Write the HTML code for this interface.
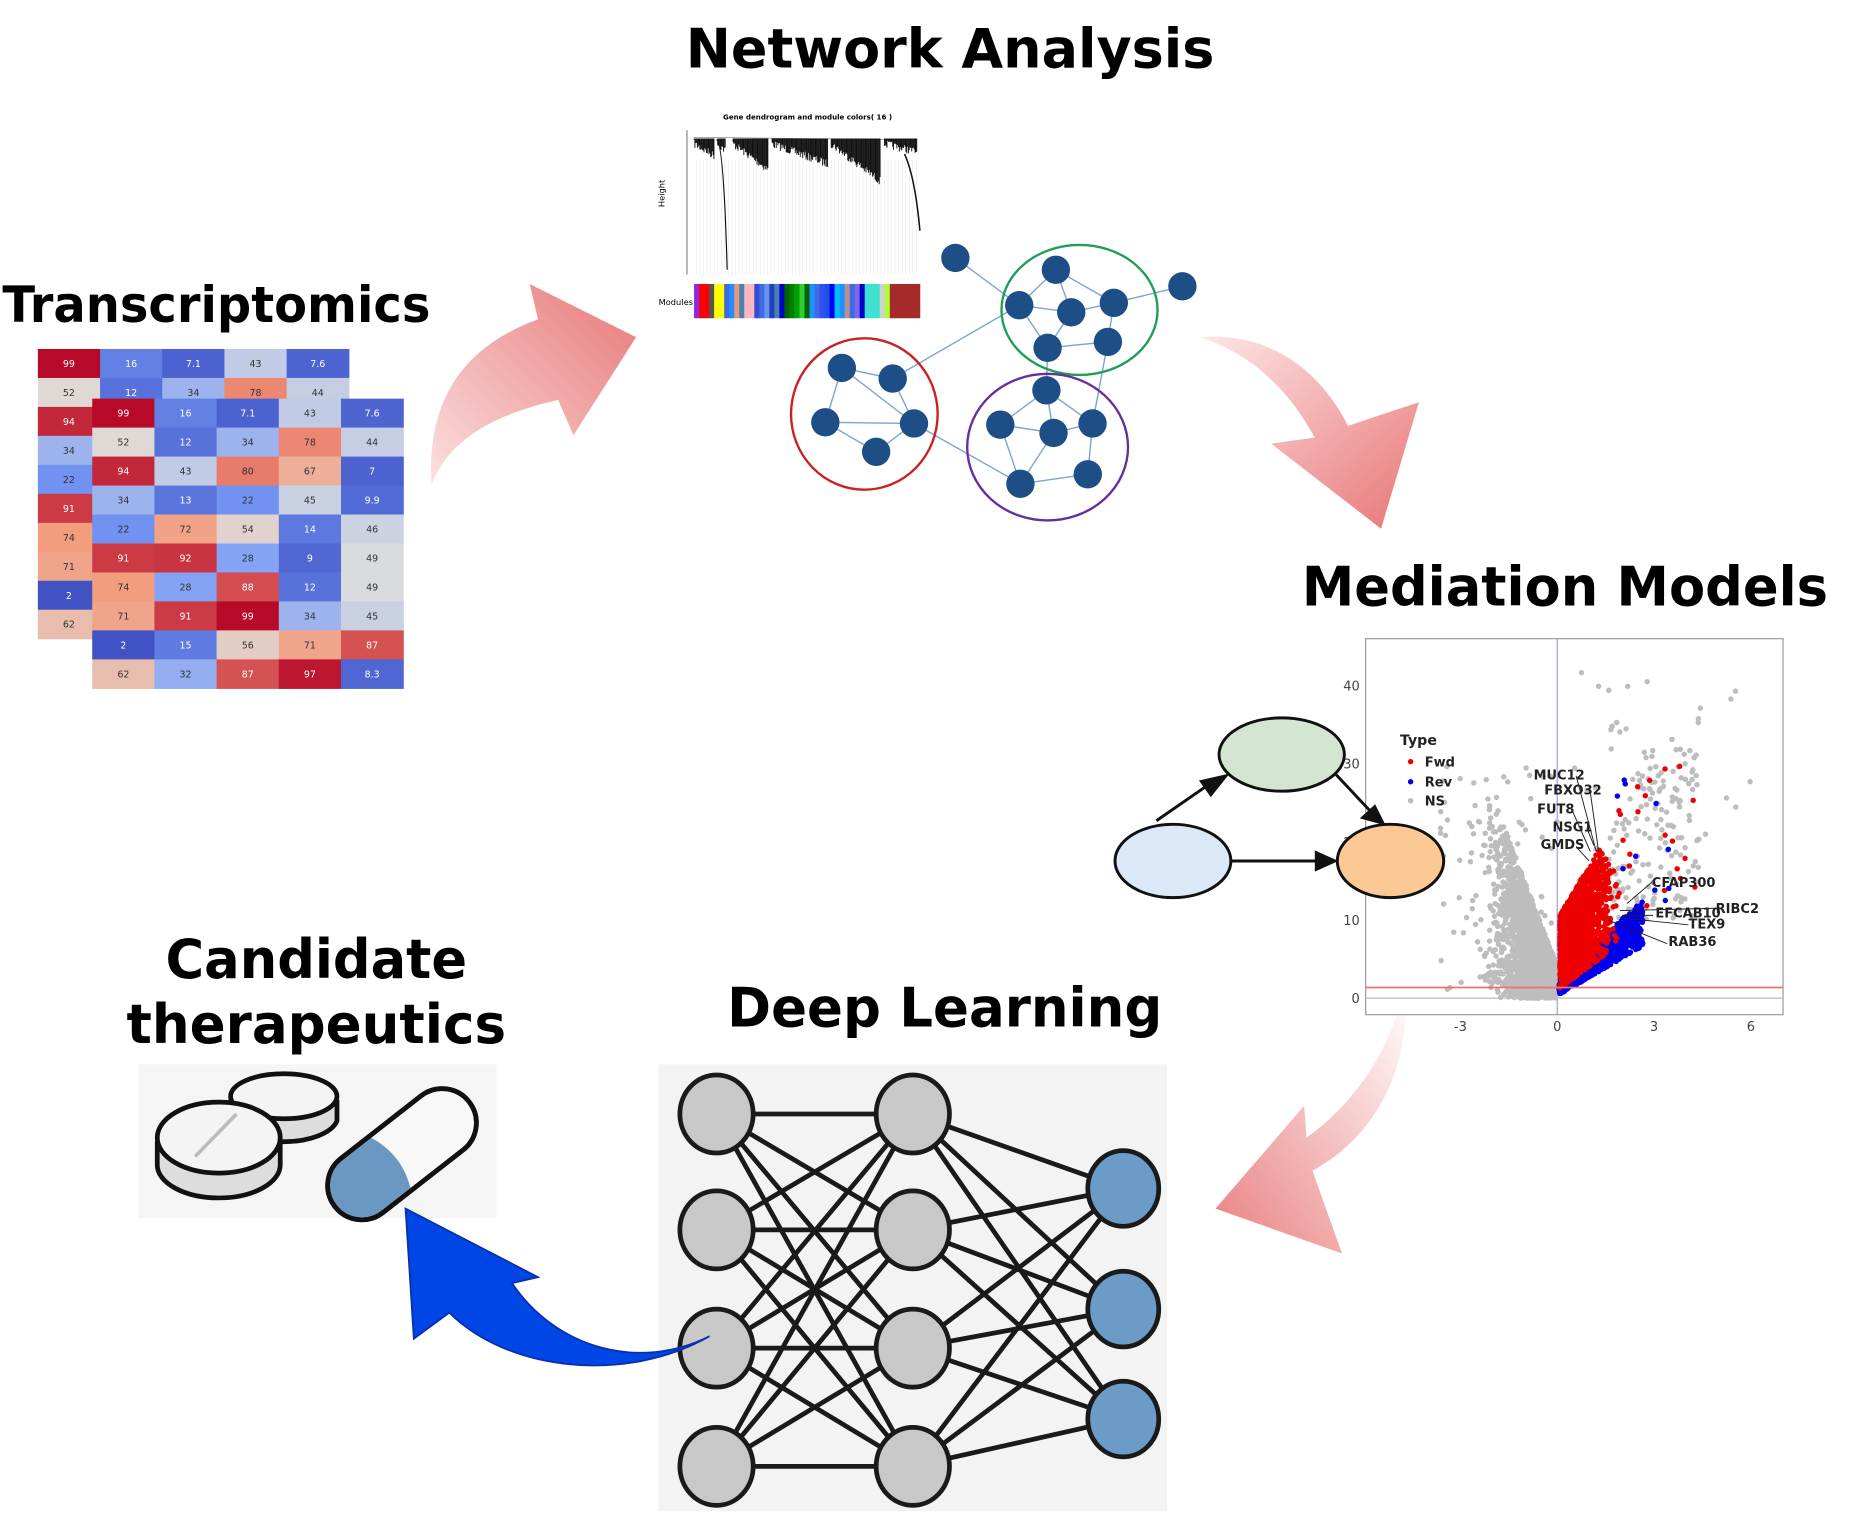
<!DOCTYPE html>
<html><head><meta charset="utf-8"><style>html,body{margin:0;padding:0;background:#fff;overflow:hidden}svg{display:block}</style></head>
<body>
<svg id="s" width="1854" height="1515" viewBox="0 0 1568 1281" xmlns="http://www.w3.org/2000/svg" font-family="DejaVu Sans, Liberation Sans, sans-serif">
<defs>
<linearGradient id="pk1" x1="0" y1="1" x2="1" y2="0"><stop offset="0" stop-color="#fbe0e0"/><stop offset="1" stop-color="#e87878"/></linearGradient>
<linearGradient id="pk2" x1="0" y1="0" x2="1" y2="1"><stop offset="0" stop-color="#fde6e6"/><stop offset="1" stop-color="#e87676"/></linearGradient>
<linearGradient id="pk3" x1="1" y1="0" x2="0" y2="1"><stop offset="0" stop-color="#ffffff"/><stop offset="1" stop-color="#e98080"/></linearGradient>
</defs>
<g font-weight="bold" fill="#000">
<text x="580" y="57" font-size="46" textLength="447" lengthAdjust="spacingAndGlyphs">Network Analysis</text>
<text x="2" y="272" font-size="42" textLength="362" lengthAdjust="spacingAndGlyphs">Transcriptomics</text>
<text x="1101" y="512" font-size="46" textLength="445" lengthAdjust="spacingAndGlyphs">Mediation Models</text>
<text x="140" y="827" font-size="46" textLength="255" lengthAdjust="spacingAndGlyphs">Candidate</text>
<text x="107" y="882" font-size="46" textLength="321" lengthAdjust="spacingAndGlyphs">therapeutics</text>
<text x="615" y="868" font-size="46" textLength="368" lengthAdjust="spacingAndGlyphs">Deep Learning</text>
</g>
<g id="heat"></g>
<path d="M365 410 C360 330 400 290 455 270 L448 240 L538 285 L485 368 L472 338 C420 350 380 370 365 410 Z" fill="url(#pk1)"/>
<path d="M1015 285 C1080 280 1120 320 1140 360 L1200 340 L1168 447 L1075 375 L1112 370 C1090 330 1060 300 1015 285 Z" fill="url(#pk2)"/>
<path d="M1188 830 C1195 900 1165 960 1110 990 L1135 1060 L1028 1022 L1103 935 L1105 962 C1150 930 1180 880 1188 830 Z" fill="url(#pk3)"/>
<g id="dend">
<text x="683" y="101" font-size="6" text-anchor="middle" font-weight="bold">Gene dendrogram and module colors( 16 )</text>
<text x="562" y="175" font-size="7" transform="rotate(-90 562 175)">Height</text>
<line x1="581" y1="110" x2="581" y2="232" stroke="#333" stroke-width="0.6"/>
<text x="557" y="258" font-size="7">Modules</text>
</g>
<g id="mod"></g>
<g stroke="#7aa6d6" stroke-width="1.2">
<line x1="808" y1="218" x2="862" y2="258"/><line x1="862" y1="258" x2="755" y2="320"/><line x1="862" y1="258" x2="893" y2="228"/><line x1="862" y1="258" x2="906" y2="264"/><line x1="862" y1="258" x2="886" y2="294"/>
<line x1="893" y1="228" x2="906" y2="264"/><line x1="893" y1="228" x2="942" y2="256"/><line x1="906" y1="264" x2="942" y2="256"/><line x1="942" y1="256" x2="937" y2="289"/><line x1="886" y1="294" x2="937" y2="289"/><line x1="906" y1="264" x2="886" y2="294"/><line x1="942" y1="256" x2="1000" y2="242"/>
<line x1="937" y1="289" x2="924" y2="358"/><line x1="886" y1="294" x2="885" y2="330"/>
<line x1="712" y1="311" x2="755" y2="320"/><line x1="712" y1="311" x2="698" y2="357"/><line x1="755" y1="320" x2="773" y2="358"/><line x1="698" y1="357" x2="773" y2="358"/><line x1="698" y1="357" x2="741" y2="382"/><line x1="773" y1="358" x2="741" y2="382"/><line x1="712" y1="311" x2="773" y2="358"/>
<line x1="773" y1="358" x2="863" y2="409"/>
<line x1="885" y1="330" x2="846" y2="359"/><line x1="885" y1="330" x2="924" y2="358"/><line x1="846" y1="359" x2="891" y2="366"/><line x1="891" y1="366" x2="924" y2="358"/><line x1="846" y1="359" x2="863" y2="409"/><line x1="863" y1="409" x2="920" y2="401"/><line x1="924" y1="358" x2="920" y2="401"/><line x1="891" y1="366" x2="863" y2="409"/><line x1="885" y1="330" x2="891" y2="366"/>
</g>
<g fill="none" stroke-width="2">
<ellipse cx="913" cy="262" rx="66" ry="55" stroke="#1e9e57"/>
<ellipse cx="731" cy="350" rx="62" ry="64" stroke="#cc1f22"/>
<ellipse cx="886" cy="378" rx="68" ry="62" stroke="#6a2d9a"/>
</g>
<g fill="#1d4e86">
<circle cx="808" cy="218" r="12"/><circle cx="893" cy="228" r="12"/><circle cx="862" cy="258" r="12"/><circle cx="906" cy="264" r="12"/><circle cx="942" cy="256" r="12"/><circle cx="886" cy="294" r="12"/><circle cx="937" cy="289" r="12"/><circle cx="1000" cy="242" r="12"/>
<circle cx="712" cy="311" r="12"/><circle cx="755" cy="320" r="12"/><circle cx="698" cy="357" r="12"/><circle cx="773" cy="358" r="12"/><circle cx="741" cy="382" r="12"/>
<circle cx="885" cy="330" r="12"/><circle cx="846" cy="359" r="12"/><circle cx="891" cy="366" r="12"/><circle cx="924" cy="358" r="12"/><circle cx="863" cy="409" r="12"/><circle cx="920" cy="401" r="12"/>
</g>
<g id="volc">
<rect x="1155" y="540" width="353" height="318" fill="#fff" stroke="#999" stroke-width="1"/>
<line x1="1317" y1="540" x2="1317" y2="858" stroke="#9a9ae8" stroke-width="1"/>
<line x1="1155" y1="844" x2="1508" y2="844" stroke="#bbb" stroke-width="1"/>
</g>
<g id="pts"></g>
<g id="vlab" font-size="11" font-weight="bold" fill="#222"></g>
<g stroke="#111" stroke-width="2.5">
<ellipse cx="992" cy="728" rx="49" ry="31" fill="#dbe8f8"/>
<ellipse cx="1084" cy="638" rx="53" ry="31" fill="#d4e6d2"/>
<ellipse cx="1176" cy="728" rx="45" ry="31" fill="#fcc994"/>
<line x1="978" y1="694" x2="1030" y2="658"/><line x1="1040" y1="728" x2="1118" y2="728"/><line x1="1130" y1="655" x2="1160" y2="687"/>
</g>
<g fill="#111">
<polygon points="1040,654 1014,660 1024,674"/>
<polygon points="1132,728 1112,719 1112,737"/>
<polygon points="1172,698 1150,692 1163,680"/>
</g>
<rect x="117" y="900" width="303" height="130" fill="#f5f5f5"/>
<g stroke="#111" stroke-width="4">
<path d="M195 930 L195 948 A46 22 0 0 0 285 948 L285 930" fill="#ddd"/>
<ellipse cx="240" cy="927" rx="45" ry="19" fill="#f4f4f4"/>
<path d="M133 965 L133 985 A52 28 0 0 0 237 985 L237 965" fill="#ddd"/>
<ellipse cx="185" cy="962" rx="52" ry="30" fill="#f4f4f4"/>
<g transform="rotate(-38 340 976)">
<rect x="268" y="947" width="144" height="58" rx="29" fill="#f8f8f8"/>
<path d="M297 949 L328 949 Q340 976 328 1003 L297 1003 A27 27 0 0 1 297 949 Z" fill="#6b98c2" stroke="none"/>
<rect x="268" y="947" width="144" height="58" rx="29" fill="none"/>
</g>
</g>
<line x1="165" y1="978" x2="200" y2="942" stroke="#bbb" stroke-width="3"/>
<rect x="557" y="900" width="430" height="378" fill="#f3f3f3"/>
<g id="nn" stroke="#1a1a1a" stroke-width="4"></g>
<path d="M600 1130 C530 1170 430 1160 380 1110 L350 1132 L343 1022 L455 1080 L433 1085 C470 1140 540 1160 600 1130 Z" fill="#0046e6" stroke="#0a2fa8" stroke-width="1.5"/>
</svg>
<script>
var NS="http://www.w3.org/2000/svg";
function el(p,t,a){var e=document.createElementNS(NS,t);for(var k in a)e.setAttribute(k,a[k]);p.appendChild(e);return e;}
var stops=[[0,[59,76,192]],[0.25,[120,155,248]],[0.5,[221,221,221]],[0.75,[244,154,123]],[1,[180,4,38]]];
function cw(v){var t=Math.max(0,Math.min(1,v/100));for(var i=0;i<4;i++){if(t<=stops[i+1][0]){var u=(t-stops[i][0])/0.25,a=stops[i][1],b=stops[i+1][1];return "rgb("+[0,1,2].map(function(k){return Math.round(a[k]+(b[k]-a[k])*u);})+")";}}}
var vals=[["99","16","7.1","43","7.6"],["52","12","34","78","44"],["94","43","80","67","7"],["34","13","22","45","9.9"],["22","72","54","14","46"],["91","92","28","9","49"],["74","28","88","12","49"],["71","91","99","34","45"],["2","15","56","71","87"],["62","32","87","97","8.3"]];
var back=[["99","16","7.1","43","7.6"],["52","12","34","78","44"],["94"],["34"],["22"],["91"],["74"],["71"],["2"],["62"]];
var H=document.getElementById("heat");
function grid(x0,y0,data){var w=52.6,h=24.5;
 for(var r=0;r<10;r++)for(var c=0;c<5;c++){var v=data[r][c]||vals[(r+3)%10][c];var n=parseFloat(v);
  el(H,"rect",{x:x0+c*w,y:y0+r*h,width:w+0.5,height:h+0.5,fill:cw(n)});
  var t=el(H,"text",{x:x0+c*w+w/2,y:y0+r*h+h/2+3,"font-size":8,"text-anchor":"middle",fill:(n>85||n<20)?"#fff":"#333"});t.textContent=v;}}
grid(32,295,back);grid(78,337,vals);
var M=document.getElementById("mod");
var cols=["#8a2be2","#ff0000","#ff0000","#555","#ffff00","#ffff00","#4169e1","#1e90ff","#e9967a","#4682b4","#ffb6c1","#ffb6c1","#3050d0","#4169e1","#6495ed","#2040c0","#4682b4","#0000cd","#006400","#008000","#00a000","#32cd32","#006400","#1e90ff","#4169e1","#3050f0","#2050e0","#0000ff","#00bfff","#1e90ff","#bc8f8f","#4169e1","#7b68ee","#0000cd","#40e0d0","#40e0d0","#40e0d0","#d0d0d0","#adff2f","#a52a2a","#a52a2a","#a52a2a","#a52a2a","#a52a2a","#a52a2a"];
var bw=191/cols.length;for(var i=0;i<cols.length;i++)el(M,"rect",{x:587+i*bw,y:240,width:bw+0.3,height:29,fill:cols[i]});
var D=document.getElementById("dend");
var seed=7;function rnd(){seed=(seed*16807)%2147483647;return seed/2147483647;}
for(var x=589;x<778;x+=3)el(D,"line",{x1:x,y1:135,x2:x,y2:232,stroke:"#e4e4e4","stroke-width":0.4});
el(D,"line",{x1:587,y1:116,x2:775,y2:118,stroke:"#777","stroke-width":0.5});
var groups=[[587,604,128],[607,614,124],[620,650,140],[653,700,135],[703,745,150],[748,776,125]];
groups.forEach(function(g){for(var x=g[0];x<g[1];x+=0.7){var f=(x-g[0])/(g[1]-g[0]);var d=118+f*(g[2]-118)+rnd()*7;
 el(D,"line",{x1:x,y1:117,x2:x,y2:d,stroke:"#111","stroke-width":0.8});}});
el(D,"path",{d:"M606 118 Q612 120 615 228",stroke:"#111","stroke-width":1,fill:"none"});
el(D,"path",{d:"M765 130 Q774 150 778 195",stroke:"#111","stroke-width":1.3,fill:"none"});
var P=document.getElementById("pts");
function px(x){return 1317+x*27.3;}function py(y){return 844-y*6.6;}
function dot(x,y,c){el(P,"circle",{cx:px(x),cy:py(y),r:2.3,fill:c});}
function gauss(){return (rnd()+rnd()+rnd()-1.5)/1.5;}
for(var i=0;i<2200;i++){var x=-(0.05+Math.abs(gauss())*2.6);var y=rnd()*(Math.abs(x)*11+4);if(y<26)dot(x,y,"#bdbdbd");}
for(var i=0;i<80;i++){dot(-rnd()*3.8,rnd()*30,"#bdbdbd");}
for(var i=0;i<220;i++){var x=0.6+rnd()*3.8;var y=10+rnd()*22;if(y<x*8+10)dot(x,y,"#bdbdbd");}
for(var i=0;i<30;i++){dot(rnd()*6,20+rnd()*22,"#bdbdbd");}
for(var i=0;i<900;i++){var x=rnd()*2.6+0.05;var y=0.3+x*2.4+rnd()*(2+x*1.5);if(y<17)dot(x,y,"#0000ee");}
for(var i=0;i<1800;i++){var x=Math.abs(gauss())*2.0+0.08;var lo=1+x*3;var hi=Math.min(10+7*x,27-6*x);if(hi>lo){dot(x,lo+rnd()*(hi-lo),"#ee0000");}}
for(var i=0;i<20;i++){dot(1.8+rnd()*2.6,10+rnd()*20,"#ee0000");}
for(var i=0;i<10;i++){dot(1.8+rnd()*1.8,12+rnd()*20,"#0000ee");}
el(P,"line",{x1:1155,y1:835,x2:1508,y2:835,stroke:"#f07070","stroke-width":1.5});
[[-3,"-3"],[0,"0"],[3,"3"],[6,"6"]].forEach(function(t){var e=el(P,"text",{x:px(t[0]),y:872,"font-size":11,"text-anchor":"middle",fill:"#444"});e.textContent=t[1];});
[[0,"0"],[10,"10"],[20,"20"],[30,"30"],[40,"40"]].forEach(function(t){var e=el(P,"text",{x:1150,y:py(t[0])+4,"font-size":11,"text-anchor":"end",fill:"#444"});e.textContent=t[1];});
var L=document.getElementById("vlab");
function lab(s,x,y){var e=el(L,"text",{x:x,y:y});e.textContent=s;}
var tg=el(L,"text",{x:1184,y:630,"font-size":12});tg.textContent="Type";
[["Fwd","#e00",648],["Rev","#00e",665],["NS","#bbb",681]].forEach(function(t){el(L,"circle",{cx:1193,cy:t[2]-4,r:2.3,fill:t[1]});lab(t[0],1205,t[2]);});
lab("MUC12",1297,659);lab("FBXO32",1306,672);lab("FUT8",1300,688);lab("NSG1",1313,703);lab("GMDS",1303,718);
lab("CFAP300",1397,750);lab("RIBC2",1451,772);lab("EFCAB10",1400,776);lab("TEX9",1428,785);lab("RAB36",1411,800);
[[1333,656,1350,720],[1345,670,1352,720],[1330,686,1345,720],[1342,700,1348,715],[1333,716,1344,728],[1397,746,1376,764],[1450,768,1370,770],[1398,774,1372,774],[1428,782,1370,776],[1410,798,1360,778]].forEach(function(l){el(L,"line",{x1:l[0],y1:l[1],x2:l[2],y2:l[3],stroke:"#222","stroke-width":0.8});});
var N=document.getElementById("nn");
var c1=[[606,942],[606,1040],[606,1140],[606,1240]],c2=[[772,942],[772,1040],[772,1140],[772,1240]],c3=[[950,1005],[950,1107],[950,1200]];
c1.forEach(function(a){c2.forEach(function(b){el(N,"line",{x1:a[0],y1:a[1],x2:b[0],y2:b[1]});});});
c2.forEach(function(a){c3.forEach(function(b){el(N,"line",{x1:a[0],y1:a[1],x2:b[0],y2:b[1]});});});
c1.concat(c2).forEach(function(a){el(N,"ellipse",{cx:a[0],cy:a[1],rx:31,ry:33,fill:"#c8c8c8"});});
c3.forEach(function(a){el(N,"ellipse",{cx:a[0],cy:a[1],rx:30,ry:32,fill:"#6b9cc8"});});
</script>
</body></html>
